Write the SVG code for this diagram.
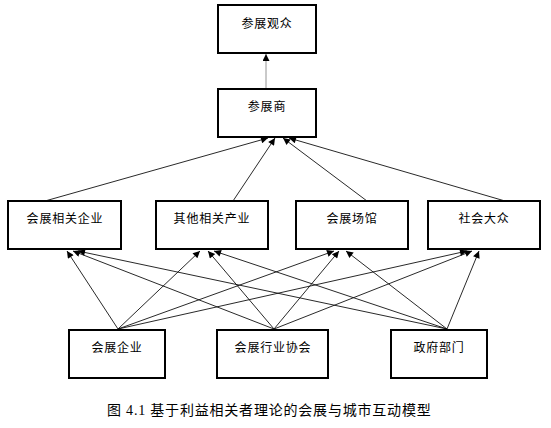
<svg xmlns="http://www.w3.org/2000/svg" width="551" height="428" viewBox="0 0 551 428">
<style>
.box{fill:#fff;stroke:#000;stroke-width:2}
.lbl{font-family:"Noto Sans CJK SC","Noto Sans",sans-serif;font-size:12px;letter-spacing:0.8px;fill:#000;text-anchor:middle}
.ln{stroke:#111;stroke-width:0.9;fill:none}
.cap{font-family:"Liberation Serif","Noto Sans CJK SC",serif;font-size:14px;letter-spacing:0.8px;fill:#000}
</style>
<defs>
<marker id="ah" viewBox="0 0 10 10" refX="10" refY="5" markerWidth="10" markerHeight="7" markerUnits="userSpaceOnUse" orient="auto">
<path d="M0,0 L10,5 L0,10 z" fill="#000"/>
</marker>
</defs>
<g id="connectors">
<line class="ln" x1="266" y1="89" x2="266" y2="54" style="stroke:#888" marker-end="url(#ah)"/>
<line class="ln" x1="45" y1="201" x2="268" y2="138" marker-end="url(#ah)"/>
<line class="ln" x1="233" y1="201" x2="275" y2="138" marker-end="url(#ah)"/>
<line class="ln" x1="367" y1="201" x2="283" y2="138" marker-end="url(#ah)"/>
<line class="ln" x1="505" y1="201" x2="289" y2="138" marker-end="url(#ah)"/>
<line class="ln" x1="118" y1="329" x2="67" y2="251" marker-end="url(#ah)"/>
<line class="ln" x1="118" y1="329" x2="200" y2="251" marker-end="url(#ah)"/>
<line class="ln" x1="118" y1="329" x2="334" y2="251" marker-end="url(#ah)"/>
<line class="ln" x1="118" y1="329" x2="467" y2="251" marker-end="url(#ah)"/>
<line class="ln" x1="274" y1="329" x2="73" y2="251" marker-end="url(#ah)"/>
<line class="ln" x1="274" y1="329" x2="208" y2="251" marker-end="url(#ah)"/>
<line class="ln" x1="274" y1="329" x2="339" y2="251" marker-end="url(#ah)"/>
<line class="ln" x1="274" y1="329" x2="472" y2="251" marker-end="url(#ah)"/>
<line class="ln" x1="447" y1="329" x2="78" y2="251" marker-end="url(#ah)"/>
<line class="ln" x1="447" y1="329" x2="214" y2="251" marker-end="url(#ah)"/>
<line class="ln" x1="447" y1="329" x2="346" y2="251" marker-end="url(#ah)"/>
<line class="ln" x1="447" y1="329" x2="479" y2="251" marker-end="url(#ah)"/>
</g>
<g id="n_audience"><rect class="box" x="218" y="5" width="98" height="48"/><text class="lbl" x="267" y="28">参展观众</text></g>
<g id="n_exhibitor"><rect class="box" x="218" y="89" width="98" height="48"/><text class="lbl" x="267" y="111">参展商</text></g>
<g id="n_related"><rect class="box" x="8" y="201" width="113" height="48"/><text class="lbl" x="65" y="223">会展相关企业</text></g>
<g id="n_other"><rect class="box" x="156" y="201" width="112" height="48"/><text class="lbl" x="212" y="223">其他相关产业</text></g>
<g id="n_venue"><rect class="box" x="296" y="201" width="112" height="48"/><text class="lbl" x="352" y="223">会展场馆</text></g>
<g id="n_public"><rect class="box" x="428" y="201" width="112" height="48"/><text class="lbl" x="484" y="223">社会大众</text></g>
<g id="n_firm"><rect class="box" x="69" y="330" width="96" height="48"/><text class="lbl" x="117" y="352">会展企业</text></g>
<g id="n_assoc"><rect class="box" x="217" y="330" width="111" height="48"/><text class="lbl" x="273" y="352">会展行业协会</text></g>
<g id="n_gov"><rect class="box" x="391" y="330" width="96" height="48"/><text class="lbl" x="439" y="352">政府部门</text></g>
<text class="cap" x="107" y="415">图 4.1 基于利益相关者理论的会展与城市互动模型</text>
</svg>
